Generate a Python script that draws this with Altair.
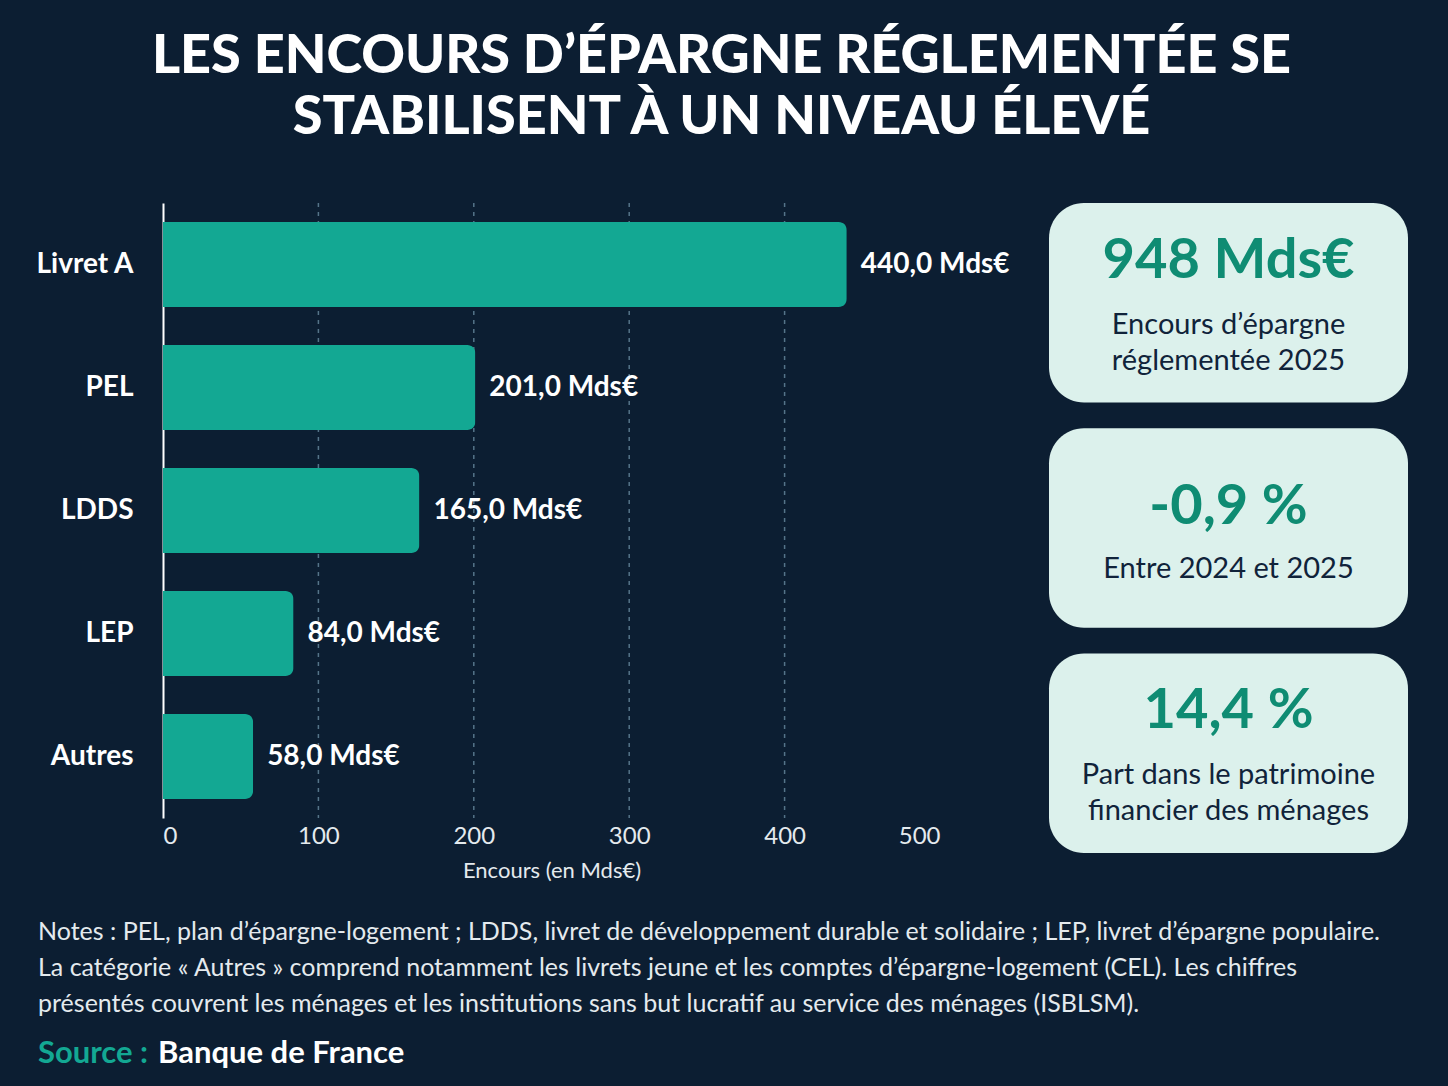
import altair as alt
import pandas as pd

# ---------------- data ----------------
categories = ["Livret A", "PEL", "LDDS", "LEP", "Autres"]
values = [440.0, 201.0, 165.0, 84.0, 58.0]
value_labels = ["440,0 Mds€", "201,0 Mds€", "165,0 Mds€", "84,0 Mds€", "58,0 Mds€"]
x_ticks = [0, 100, 200, 300, 400, 500]
grid_values = [100, 200, 300, 400]

card_ids = ["total", "evolution", "part"]
card_values = ["948 Mds€", "-0,9 %", "14,4 %"]
card_labels = ["Encours d’épargne\nréglementée 2025", "Entre 2024 et 2025",
               "Part dans le patrimoine\nfinancier des ménages"]
card_nlines = [2, 1, 2]

title_lines = ["LES ENCOURS D’ÉPARGNE RÉGLEMENTÉE SE", "STABILISENT À UN NIVEAU ÉLEVÉ"]
note_ids = ["n1", "n2", "n3"]
note_lines = [
    "Notes : PEL, plan d’épargne-logement ; LDDS, livret de développement durable et solidaire ; LEP, livret d’épargne populaire.",
    "La catégorie « Autres » comprend notamment les livrets jeune et les comptes d’épargne-logement (CEL). Les chiffres",
    "présentés couvrent les ménages et les institutions sans but lucratif au service des ménages (ISBLSM).",
]
source_label = "Source :"
source_name = "Banque de France"

# ---------------- styles ----------------
FONT = "Lato"
BG = "#0c1e32"
BAR = "#13a893"
CARD = "#dcf1ec"
TEAL = "#0f8c73"
NAVY = "#10233a"
TXT = "#e4eaee"
GRID = "#557489"

BAR_W, BAR_H = 777, 615
CARD_W, CARD_H = 359, 650

bars_df = pd.DataFrame({"cat": categories, "val": values, "label": value_labels})
xscale = alt.Scale(domain=[0, 500], nice=False)
ysort = categories

grid = alt.Chart(pd.DataFrame({"g": grid_values})).mark_rule(
    strokeDash=[4, 5], color=GRID, strokeWidth=1.5
).encode(x=alt.X("g:Q", scale=xscale))

bars = alt.Chart(bars_df).mark_bar(color=BAR, cornerRadiusEnd=8).encode(
    x=alt.X("val:Q", scale=xscale,
            axis=alt.Axis(values=x_ticks, grid=False, domain=False, ticks=False,
                          labelFontSize=24, labelColor=TXT, labelPadding=6, labelFont=FONT,
                          title="Encours (en Mds€)", titleFontSize=22, titleFontWeight="normal",
                          titleColor=TXT, titlePadding=12, titleFont=FONT)),
    y=alt.Y("cat:N", sort=ysort,
            scale=alt.Scale(paddingInner=0.31, paddingOuter=0.155),
            axis=alt.Axis(title=None, labelFontSize=28, labelFontWeight="bold",
                          labelColor="white", labelPadding=30, ticks=False,
                          domain=True, domainColor="white", domainWidth=2, labelFont=FONT)),
)

bar_labels = alt.Chart(bars_df).mark_text(
    align="left", dx=14, fontSize=28, fontWeight="bold", color="white", font=FONT
).encode(x=alt.X("val:Q", scale=xscale), y=alt.Y("cat:N", sort=ysort), text="label:N")

bar_chart = alt.layer(grid, bars, bar_labels).properties(width=BAR_W, height=BAR_H)

# ---------------- cards ----------------
cards_df = pd.DataFrame({"card": card_ids, "value": card_values,
                         "label": card_labels, "nlines": card_nlines})
yc = alt.Y("card:N", sort=card_ids, axis=None,
           scale=alt.Scale(paddingInner=0.115, paddingOuter=0))

rects = alt.Chart(cards_df).mark_rect(cornerRadius=35, color=CARD).encode(
    y=yc, x=alt.value(0), x2=alt.value(CARD_W))

val2 = alt.Chart(cards_df).transform_filter("datum.nlines == 2").mark_text(
    fontSize=56, fontWeight="bold", color=TEAL, dy=-42, font=FONT
).encode(y=yc, x=alt.value(CARD_W / 2), text="value:N")
val1 = alt.Chart(cards_df).transform_filter("datum.nlines == 1").mark_text(
    fontSize=56, fontWeight="bold", color=TEAL, dy=-21, font=FONT
).encode(y=yc, x=alt.value(CARD_W / 2), text="value:N")
sub2 = alt.Chart(cards_df).transform_filter("datum.nlines == 2").mark_text(
    fontSize=29, color=NAVY, lineBreak="\n", lineHeight=36, baseline="top", dy=8, font=FONT
).encode(y=yc, x=alt.value(CARD_W / 2), text="label:N")
sub1 = alt.Chart(cards_df).transform_filter("datum.nlines == 1").mark_text(
    fontSize=29, color=NAVY, lineBreak="\n", lineHeight=36, baseline="top", dy=27, font=FONT
).encode(y=yc, x=alt.value(CARD_W / 2), text="label:N")

cards = alt.layer(rects, val2, val1, sub2, sub1).properties(width=CARD_W, height=CARD_H)

# ---------------- notes ----------------
line_domain = note_ids + ["src"]
yn = alt.Y("line:N", axis=None, scale=alt.Scale(type="point", domain=line_domain, padding=0))
notes_df = pd.DataFrame({"line": note_ids, "text": note_lines})
src_df = pd.DataFrame({"line": ["src"], "a": [source_label], "b": [source_name]})

NOTE_DX = -125
notes_txt = alt.Chart(notes_df).mark_text(
    align="left", fontSize=25, color=TXT, dx=NOTE_DX, font=FONT
).encode(y=yn, x=alt.value(0), text="text:N")
src_a = alt.Chart(src_df).mark_text(
    align="left", fontSize=31, fontWeight="bold", color=BAR, dx=NOTE_DX, dy=14, font=FONT
).encode(y=yn, x=alt.value(0), text="a:N")
src_b = alt.Chart(src_df).mark_text(
    align="left", fontSize=31, fontWeight="bold", color="white", dx=NOTE_DX + 120, dy=14, font=FONT
).encode(y=yn, x=alt.value(0), text="b:N")

notes = alt.layer(notes_txt, src_a, src_b).properties(width=BAR_W, height=108)

row = alt.hconcat(bar_chart, cards, spacing=109, bounds="flush")

chart = alt.vconcat(row, notes, spacing=39).properties(
    title=alt.TitleParams(text=title_lines, fontSize=54, fontWeight=900, color="white",
                          anchor="middle", frame="bounds", lineHeight=61, font=FONT, offset=57),
    background=BG,
    padding={"left": 35, "top": 30, "right": 40, "bottom": 40},
).configure(font=FONT, view=alt.ViewConfig(stroke=None))

chart.save("out.html", embed_options={"renderer": "svg", "actions": False})
